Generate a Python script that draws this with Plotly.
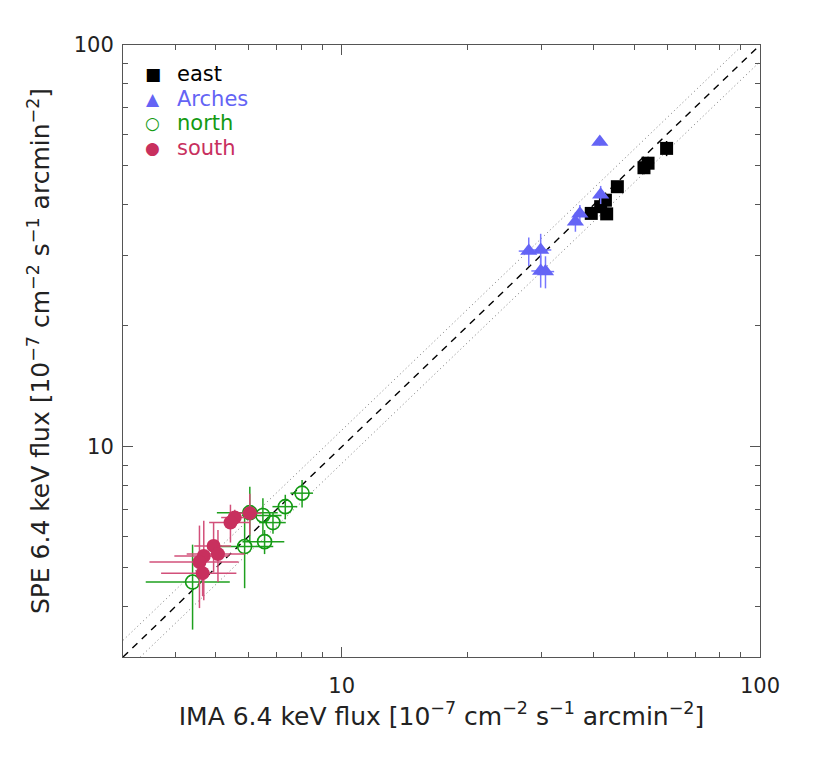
import numpy as np
import plotly.graph_objects as go

# values (flux in 1e-7 cm^-2 s^-1 arcmin^-2)
east_x = [59.8, 54.0, 52.8, 45.6, 42.7, 41.6, 39.5, 43.0]
east_y = [55.3, 50.8, 49.5, 44.4, 41.1, 39.6, 38.1, 38.0]
east_xerr = [1.0, 1.0, 1.0, 0.8, 0.8, 0.8, 0.8, 0.8]
east_yerr = [2.4, 1.9, 1.8, 1.2, 1.2, 1.2, 1.0, 1.2]

arches_x = [41.4, 41.6, 37.1, 36.2, 28.0, 29.9, 29.9, 30.7]
arches_y = [57.4, 42.4, 38.0, 36.3, 30.7, 30.9, 27.4, 27.3]
arches_xerr = [0.8, 1.0, 1.0, 1.0, 1.5, 1.8, 1.5, 1.5]
arches_yerr = [1.2, 2.2, 2.0, 2.0, 2.5, 3.0, 2.5, 2.5]

north_x = [4.40, 5.86, 6.54, 6.03, 6.48, 6.85, 7.33, 8.04]
north_y = [4.61, 5.65, 5.81, 6.86, 6.75, 6.48, 7.10, 7.67]
north_xerr = [1.0, 1.0, 0.75, 1.0, 0.7, 0.5, 0.5, 0.5]
north_yerr = [1.1, 1.2, 0.4, 1.1, 0.7, 0.4, 0.5, 0.6]

south_x = [5.55, 5.42, 6.03, 4.94, 5.06, 4.68, 4.57, 4.65]
south_y = [6.67, 6.48, 6.84, 5.67, 5.41, 5.35, 5.17, 4.85]
south_xerr = [0.4, 0.6, 0.4, 0.5, 0.8, 0.7, 1.1, 0.95]
south_yerr = [0.3, 0.7, 0.8, 0.8, 0.8, 1.2, 1.2, 0.6]

axis_min, axis_max = 3, 100
ratio_band = 1.1
major_ticks = [10, 100]
minor_ticks = [3, 4, 5, 6, 7, 8, 9, 20, 30, 40, 50, 60, 70, 80, 90]

FONT = "DejaVu Sans"
TXT = "#222222"
unit = "[10<sup>−7</sup> cm<sup>−2</sup> s<sup>−1</sup> arcmin<sup>−2</sup>]"

fig = go.Figure()

# one-to-one line and +-10% band
line_x = np.array([axis_min, axis_max])
fig.add_trace(go.Scatter(x=line_x, y=line_x, mode="lines", showlegend=False,
                         line=dict(color="black", width=1.4, dash="7px,6px")))
for f in [ratio_band, 1 / ratio_band]:
    fig.add_trace(go.Scatter(x=line_x, y=line_x * f, mode="lines", showlegend=False,
                             line=dict(color="#777777", width=1, dash="1px,3px")))

series = [
    ("east", east_x, east_y, east_xerr, east_yerr, "black", "black", "square", 13, None, "■"),
    ("Arches", arches_x, arches_y, arches_xerr, arches_yerr, "#6464f5", "#7878ff", "triangle-up", 15, None, "▲"),
    ("north", north_x, north_y, north_xerr, north_yerr, "#139a13", "#1ea01e", "circle-open", 14, 1.6, "○"),
    ("south", south_x, south_y, south_xerr, south_yerr, "#c8305e", "#d2507a", "circle", 14, None, "●"),
]
for name, x, y, xe, ye, col, ecol, sym, size, lw, glyph in series:
    marker = dict(symbol=sym, size=size, color=col)
    if lw:
        marker["line"] = dict(width=lw, color=col)
    fig.add_trace(go.Scatter(
        x=x, y=y, mode="markers", name=name, showlegend=False,
        marker=marker,
        error_x=dict(type="data", array=xe, color=ecol, thickness=1.5, width=0),
        error_y=dict(type="data", array=ye, color=ecol, thickness=1.5, width=0),
    ))

# legend drawn as text in the upper left corner
for i, (name, *_rest) in enumerate(series):
    col, glyph = _rest[4], _rest[-1]
    ypos = 0.953 - i * 0.0405
    fig.add_annotation(x=0.047, y=ypos, xref="paper", yref="paper", text=glyph,
                       showarrow=False, xanchor="center", yanchor="middle",
                       font=dict(family=FONT, size=17, color=col))
    fig.add_annotation(x=0.081, y=ypos, xref="paper", yref="paper", text=name,
                       showarrow=False, xanchor="left", yanchor="middle",
                       font=dict(family=FONT, size=21, color=col))

axis_common = dict(
    type="log",
    range=[np.log10(axis_min), np.log10(axis_max)],
    tickmode="array", tickvals=major_ticks, ticktext=[str(t) for t in major_ticks],
    ticks="inside", ticklen=10, tickwidth=1, tickcolor="#555",
    minor=dict(tickmode="array", tickvals=minor_ticks, ticks="inside",
               ticklen=5, tickwidth=1, tickcolor="#555"),
    showline=True, linecolor="#555", linewidth=1, mirror="ticks",
    showgrid=False, zeroline=False,
    tickfont=dict(family=FONT, size=21, color=TXT),
)

fig.update_xaxes(**axis_common, ticklabelstandoff=10,
                 title=dict(text="IMA 6.4 keV flux " + unit,
                            font=dict(family=FONT, size=25, color=TXT), standoff=8))
fig.update_yaxes(**axis_common, ticklabelstandoff=4,
                 title=dict(text="SPE 6.4 keV flux " + unit,
                            font=dict(family=FONT, size=25, color=TXT), standoff=16))

# the page body adds an 8px offset, margins compensate for it
fig.update_layout(
    width=831, height=760,
    margin=dict(l=115, r=79, t=37, b=111),
    plot_bgcolor="white", paper_bgcolor="white",
    showlegend=False,
)

fig.write_html("out.html")
